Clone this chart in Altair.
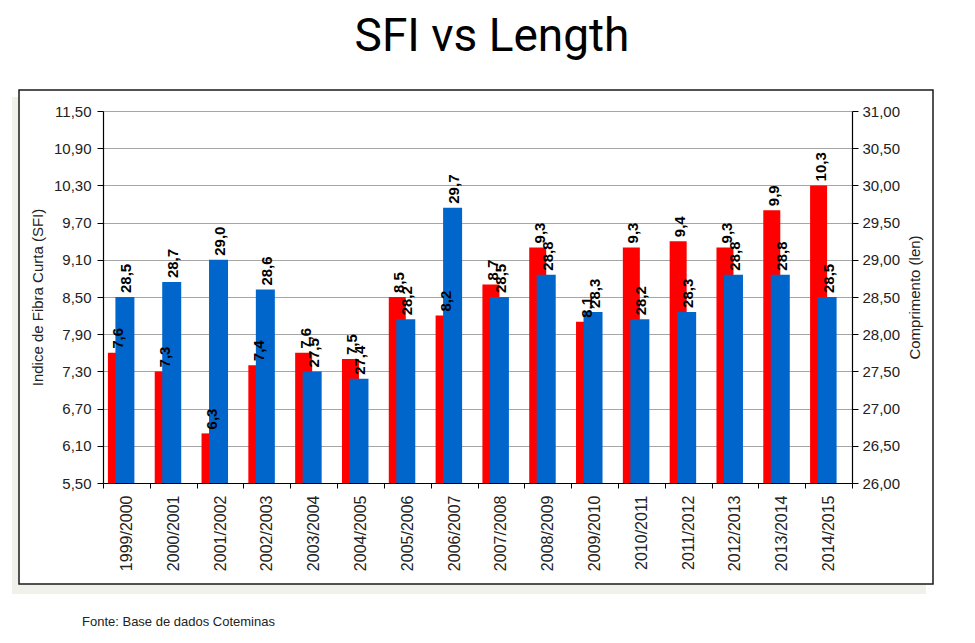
import altair as alt
import pandas as pd

seasons = ["1999/2000", "2000/2001", "2001/2002", "2002/2003", "2003/2004", "2004/2005",
           "2005/2006", "2006/2007", "2007/2008", "2008/2009", "2009/2010", "2010/2011",
           "2011/2012", "2012/2013", "2013/2014", "2014/2015"]
sfi = [7.6, 7.3, 6.3, 7.4, 7.6, 7.5, 8.5, 8.2, 8.7, 9.3, 8.1, 9.3, 9.4, 9.3, 9.9, 10.3]
length = [28.5, 28.7, 29.0, 28.6, 27.5, 27.4, 28.2, 29.7, 28.5, 28.8, 28.3, 28.2, 28.3, 28.8, 28.8, 28.5]
left_ticks = [5.5, 6.1, 6.7, 7.3, 7.9, 8.5, 9.1, 9.7, 10.3, 10.9, 11.5]
right_ticks = [26.0, 26.5, 27.0, 27.5, 28.0, 28.5, 29.0, 29.5, 30.0, 30.5, 31.0]

title_text = "SFI vs Length"
footer_text = "Fonte: Base de dados Coteminas"

df = pd.DataFrame({"season": seasons, "sfi": sfi, "len": length})

FONT = "Liberation Sans"
comma2 = "replace(format(datum.value, '.2f'), '.', ',')"

x_enc = alt.X("season:N", sort=None, title=None,
              scale=alt.Scale(paddingInner=0, paddingOuter=0),
              axis=alt.Axis(tickBand="extent", labelAngle=270, labelAlign="right",
                            labelBaseline="middle", labelFont=FONT, labelFontSize=16,
                            labelColor="#222222", labelPadding=7, tickSize=5,
                            tickColor="black", domainColor="black", domainWidth=1.2,
                            grid=False, zindex=1))

sfi_scale = alt.Scale(domain=[5.5, 11.5], zero=False, nice=False)
len_scale = alt.Scale(domain=[26, 31], zero=False, nice=False)

base = alt.Chart(df).transform_calculate(
    sfi_lab="replace(format(datum.sfi, '.1f'), '.', ',')",
    len_lab="replace(format(datum.len, '.1f'), '.', ',')",
)

red_bars = base.mark_bar(color="#FF0000", width=17, xOffset=-10).encode(
    x=x_enc,
    y=alt.Y("sfi:Q", scale=sfi_scale,
            axis=alt.Axis(orient="left", values=left_ticks, labelExpr=comma2,
                          title="Indice de Fibra Curta (SFI)", titleFont=FONT,
                          titleFontSize=15, titleFontWeight="normal", titleColor="#222222",
                          titlePadding=8, labelFont=FONT, labelFontSize=15,
                          labelColor="#222222", labelPadding=6, tickSize=6,
                          tickColor="black", domainColor="black", domainWidth=1.2,
                          grid=True, gridColor="#a6a6a6", gridWidth=1)),
    y2=alt.datum(5.5),
)

blue_bars = base.mark_bar(color="#0066CC", width=19, xOffset=-1.5).encode(
    x=x_enc,
    y=alt.Y("len:Q", scale=len_scale,
            axis=alt.Axis(orient="right", values=right_ticks, labelExpr=comma2,
                          title="Comprimento (len)", titleFont=FONT, titleAngle=270,
                          titleBaseline="top",
                          titleFontSize=15, titleFontWeight="normal", titleColor="#222222",
                          titlePadding=8, labelFont=FONT, labelFontSize=15,
                          labelColor="#222222", labelPadding=4, tickSize=6,
                          tickColor="black", domainColor="black", domainWidth=1.2,
                          grid=False)),
    y2=alt.datum(26),
)

red_text = base.mark_text(angle=270, align="left", baseline="middle", dx=4, dy=-8,
                          font=FONT, fontWeight="bold", fontSize=15, color="black").encode(
    x=x_enc,
    y=alt.Y("sfi:Q", scale=sfi_scale, axis=None),
    text="sfi_lab:N",
)

blue_text = base.mark_text(angle=270, align="left", baseline="middle", dx=4, dy=0,
                           font=FONT, fontWeight="bold", fontSize=15, color="black").encode(
    x=x_enc,
    y=alt.Y("len:Q", scale=len_scale, axis=None),
    text="len_lab:N",
)

one = pd.DataFrame({"t": [title_text], "f": [footer_text]})

shadow_left = alt.Chart(one).mark_rect(fill="#f1f1ec").encode(
    x=alt.value(-91), x2=alt.value(-84), y=alt.value(-14), y2=alt.value(483))
shadow_bottom = alt.Chart(one).mark_rect(fill="#f1f1ec").encode(
    x=alt.value(-91), x2=alt.value(823), y=alt.value(473), y2=alt.value(483))
box = alt.Chart(one).mark_rect(fill="transparent", stroke="#1a1a1a", strokeWidth=1.5).encode(
    x=alt.value(-84), x2=alt.value(830), y=alt.value(-21), y2=alt.value(473))

title = alt.Chart(one).mark_text(font="Roboto", fontSize=46, color="black",
                                 align="center", baseline="alphabetic").encode(
    text="t:N", x=alt.value(389), y=alt.value(-60))

footer = alt.Chart(one).mark_text(font=FONT, fontSize=13, color="#222222",
                                  align="left", baseline="middle").encode(
    text="f:N", x=alt.value(-21), y=alt.value(511))

chart = alt.layer(shadow_left, shadow_bottom, box, red_bars, blue_bars, red_text, blue_text,
                  title, footer).resolve_scale(
    y="independent"
).properties(
    width=749, height=372,
    padding={"left": 95, "top": 103, "right": 115, "bottom": 152},
    autosize=alt.AutoSizeParams(type="none"),
).configure_view(stroke=None)

chart.save("out.html", embed_options={"renderer": "svg", "actions": False})
